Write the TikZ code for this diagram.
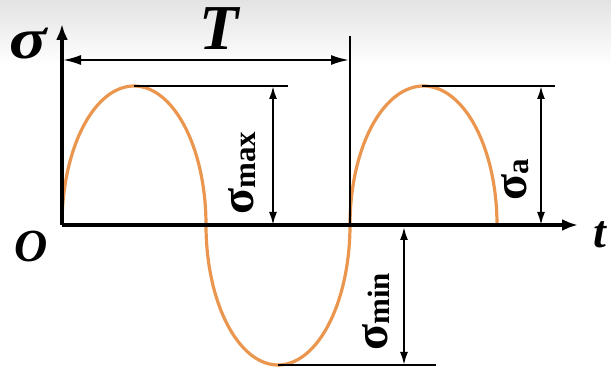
\documentclass[tikz,border=0pt]{standalone}
\usepackage{fontspec}
\setmainfont{Liberation Serif}
\usetikzlibrary{arrows.meta}
\definecolor{curveorange}{RGB}{234,150,78}
\tikzset{
  axisline/.style={line width=3.4pt, -{Latex[length=16pt,width=12pt]}},
  dimline/.style={line width=2.1pt, {Latex[length=13pt,width=8pt]}-{Latex[length=13pt,width=8pt]}},
  tline/.style={line width=2.1pt, {Latex[length=18pt,width=10pt]}-{Latex[length=18pt,width=10pt]}},
  refline/.style={line width=2.1pt},
  curve/.style={line width=3.2pt, curveorange},
  biglabel/.style={font=\fontsize{46}{50}\selectfont\bfseries\itshape, inner sep=0pt},
  hugelabel/.style={font=\fontsize{64}{66}\selectfont\bfseries\itshape, inner sep=0pt},
  sublabel/.style={rotate=90, inner sep=0pt, font=\bfseries}
}
\newcommand{\sgm}[1]{{\fontsize{48}{50}\selectfont σ}\raisebox{-0.14em}{\fontsize{31}{33}\selectfont #1}}
\begin{document}
\begin{tikzpicture}[x=1pt,y=-1pt]
\useasboundingbox (0,0) rectangle (611,371);
\shade[top color=black!11, bottom color=white] (0,0) rectangle (611,65);
% named points
\coordinate (O) at (62,225);
\coordinate (yend) at (62,24);
\coordinate (xend) at (578,225);
\coordinate (P1) at (134,86);
\coordinate (P2) at (422,86);
\coordinate (Q) at (278,365);
\coordinate (Tl) at (63,60);
\coordinate (Tr) at (349,60);
\coordinate (Vtop) at (350,36);
\coordinate (Vbot) at (350,225);
\coordinate (L1e) at (288,86);
\coordinate (L2e) at (555,86);
\coordinate (L3e) at (436,365);
\coordinate (Amax1) at (273,86);
\coordinate (Amax2) at (273,225);
\coordinate (Aa1) at (541,86);
\coordinate (Aa2) at (541,225);
\coordinate (Amin1) at (404,227);
\coordinate (Amin2) at (404,365);
% curve: three half-ellipses
\draw[curve] plot[domain=0:180, samples=90, smooth] ({134-72*cos(\x)}, {225-139*sin(\x)});
\draw[curve] plot[domain=0:180, samples=90, smooth] ({278-72*cos(\x)}, {225+140*sin(\x)});
\draw[curve] plot[domain=0:180, samples=90, smooth] ({423.5-73.5*cos(\x)}, {225-139*sin(\x)});
% axes
\draw[axisline] (O) -- (yend);
\draw[axisline] (O) -- (xend);
% period
\draw[refline] (Vtop) -- (Vbot);
\draw[tline] (Tl) -- (Tr);
% reference lines
\draw[refline] (P1) -- (L1e);
\draw[refline] (P2) -- (L2e);
\draw[refline] (Q) -- (L3e);
% dimension arrows
\draw[dimline] (Amax1) -- (Amax2);
\draw[dimline] (Aa1) -- (Aa2);
\draw[dimline] (Amin1) -- (Amin2);
% labels
\node[biglabel, font=\fontsize{58}{60}\selectfont\bfseries\itshape, xscale=1.2] (sig) at (28,44) {σ};
\node[hugelabel] (T) at (219,29) {T};
\node[biglabel] (o) at (31,246) {O};
\node[biglabel] (t) at (600,235) {t};
\node[sublabel] (smax) at (242,173) {\sgm{max}};
\node[sublabel] (sa) at (515,180) {\sgm{a}};
\node[sublabel] (smin) at (376,312) {\sgm{min}};
\end{tikzpicture}
\end{document}
